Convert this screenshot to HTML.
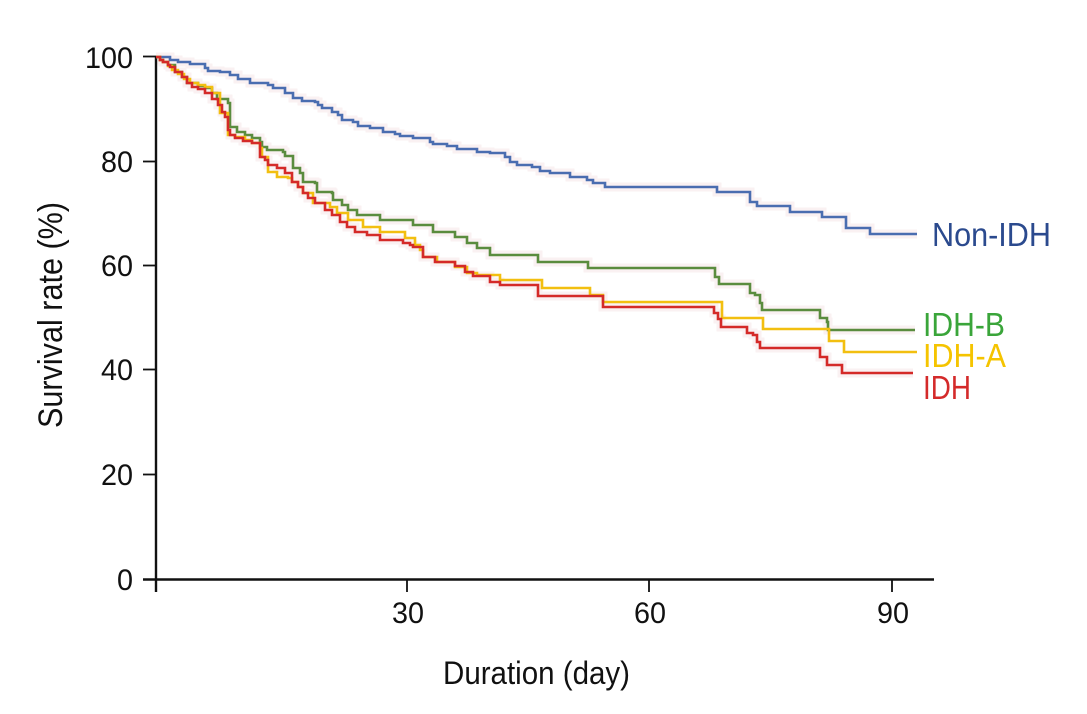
<!DOCTYPE html>
<html>
<head>
<meta charset="utf-8">
<style>
html,body{margin:0;padding:0;background:#fff;}
svg{display:block;}
text{font-family:"Liberation Sans","DejaVu Sans",sans-serif;}
</style>
</head>
<body>
<svg width="1087" height="714" viewBox="0 0 1087 714" xmlns="http://www.w3.org/2000/svg">
<rect width="1087" height="714" fill="#fff"/>

<!-- faint halos -->
<g fill="none" stroke="#f6e4e6" stroke-width="9" opacity="0.5" stroke-linejoin="miter">
<path d="M156,57 H170 V60 H178 V62 H190 V64 H205 V68 H208 V71 H220 V72 H230 V75 H238 V79 H250 V83 H268 V85 H273 V88 H285 V93 H293 V98 H302 V101 H315 V102 H318 V105 H322 V108 H332 V112 H338 V115 H342 V120 H353 V122 H358 V126 H370 V128 H383 V132 H395 V134 H400 V136 H413 V138 H430 V142 H433 V144 H447 V146 H457 V149 H477 V152 H490 V153 H505 V157 H510 V162 H517 V165 H532 V167 H540 V171 H550 V173 H570 V177 H587 V180 H593 V183 H605 V187 H717 V192 H750 V202 H757 V206 H790 V212 H822 V217 H846 V228 H870 V234 H917"/>
<path d="M156,57 H160 V60 H163 V62 H168 V65 H175 V72 H182 V77 H187 V83 H198 V86 H205 V88 H212 V93 H217 V99 H228 V103 H230 V127 H237 V132 H245 V135 H252 V138 H260 V142 H262 V147 H267 V150 H283 V152 H285 V156 H293 V168 H300 V173 H303 V182 H315 V183 H317 V192 H332 V193 H333 V200 H342 V205 H348 V210 H357 V215 H380 V220 H413 V225 H433 V232 H455 V237 H467 V243 H477 V248 H490 V255 H538 V262 H588 V268 H715 V277 H719 V284 H750 V293 H755 V295 H760 V303 H762 V310 H820 V318 H827 V322 H828 V330 H915"/>
<path d="M156,57 H160 V60 H163 V62 H168 V65 H170 V67 H175 V72 H182 V77 H187 V83 H192 V87 H198 V89 H205 V93 H212 V99 H218 V105 H222 V112 H225 V117 H228 V130 H230 V135 H235 V138 H243 V141 H252 V143 H260 V157 H265 V160 H268 V165 H277 V168 H285 V173 H292 V182 H298 V187 H303 V193 H308 V198 H315 V203 H325 V210 H332 V215 H340 V222 H347 V227 H355 V232 H367 V235 H380 V240 H403 V243 H410 V245 H413 V247 H423 V257 H435 V262 H455 V266 H465 V272 H473 V276 H490 V282 H500 V285 H538 V296 H603 V307 H714 V313 H718 V319 H721 V327 H747 V333 H753 V335 H757 V342 H760 V348 H820 V357 H827 V365 H842 V373 H913"/>
</g>

<!-- axes -->
<g stroke="#111" fill="none">
<line x1="156" y1="56" x2="156" y2="592" stroke-width="2.4"/>
<line x1="143" y1="579.5" x2="934" y2="579.5" stroke-width="2.4"/>
<line x1="143" y1="56.5" x2="156" y2="56.5" stroke-width="1.8"/>
<line x1="143" y1="161.5" x2="156" y2="161.5" stroke-width="1.8"/>
<line x1="143" y1="265.5" x2="156" y2="265.5" stroke-width="1.8"/>
<line x1="143" y1="369.5" x2="156" y2="369.5" stroke-width="1.8"/>
<line x1="143" y1="474.5" x2="156" y2="474.5" stroke-width="1.8"/>
<line x1="407" y1="579" x2="407" y2="592" stroke-width="1.8"/>
<line x1="649" y1="579" x2="649" y2="592" stroke-width="1.8"/>
<line x1="892" y1="579" x2="892" y2="592" stroke-width="1.8"/>
</g>

<!-- tick labels -->
<g font-size="30" fill="#111">
<text x="85" y="68" textLength="48" lengthAdjust="spacingAndGlyphs">100</text>
<text x="101" y="172" textLength="32" lengthAdjust="spacingAndGlyphs">80</text>
<text x="101" y="276" textLength="32" lengthAdjust="spacingAndGlyphs">60</text>
<text x="101" y="380" textLength="32" lengthAdjust="spacingAndGlyphs">40</text>
<text x="101" y="485" textLength="32" lengthAdjust="spacingAndGlyphs">20</text>
<text x="117" y="590" textLength="16" lengthAdjust="spacingAndGlyphs">0</text>
<text x="392" y="623" textLength="32" lengthAdjust="spacingAndGlyphs">30</text>
<text x="634" y="623" textLength="32" lengthAdjust="spacingAndGlyphs">60</text>
<text x="877" y="623" textLength="32" lengthAdjust="spacingAndGlyphs">90</text>
</g>

<!-- axis titles -->
<text x="443" y="684" font-size="32" fill="#111" textLength="187" lengthAdjust="spacingAndGlyphs">Duration (day)</text>
<text transform="translate(62,428) rotate(-90)" x="0" y="0" font-size="34" fill="#111" textLength="226" lengthAdjust="spacingAndGlyphs">Survival rate (%)</text>

<!-- curves -->
<g fill="none" stroke-width="2.6" stroke-linejoin="miter">
<path stroke="#4a6db0" d="M156,57 H170 V60 H178 V62 H190 V64 H205 V68 H208 V71 H220 V72 H230 V75 H238 V79 H250 V83 H268 V85 H273 V88 H285 V93 H293 V98 H302 V101 H315 V102 H318 V105 H322 V108 H332 V112 H338 V115 H342 V120 H353 V122 H358 V126 H370 V128 H383 V132 H395 V134 H400 V136 H413 V138 H430 V142 H433 V144 H447 V146 H457 V149 H477 V152 H490 V153 H505 V157 H510 V162 H517 V165 H532 V167 H540 V171 H550 V173 H570 V177 H587 V180 H593 V183 H605 V187 H717 V192 H750 V202 H757 V206 H790 V212 H822 V217 H846 V228 H870 V234 H917"/>
<path stroke="#5a8c3e" d="M156,57 H160 V60 H163 V62 H168 V65 H175 V72 H182 V77 H187 V83 H198 V86 H205 V88 H212 V93 H217 V99 H228 V103 H230 V127 H237 V132 H245 V135 H252 V138 H260 V142 H262 V147 H267 V150 H283 V152 H285 V156 H293 V168 H300 V173 H303 V182 H315 V183 H317 V192 H332 V193 H333 V200 H342 V205 H348 V210 H357 V215 H380 V220 H413 V225 H433 V232 H455 V237 H467 V243 H477 V248 H490 V255 H538 V262 H588 V268 H715 V277 H719 V284 H750 V293 H755 V295 H760 V303 H762 V310 H820 V318 H827 V322 H828 V330 H915"/>
<path stroke="#f2bf10" d="M156,57 H160 V60 H163 V62 H168 V66 H172 V70 H178 V74 H184 V79 H190 V83 H198 V85 H205 V87 H212 V93 H220 V113 H228 V135 H235 V137 H245 V140 H252 V143 H260 V148 H262 V157 H268 V172 H277 V177 H288 V178 H292 V182 H298 V187 H303 V193 H313 V203 H330 V207 H337 V213 H348 V220 H363 V227 H380 V232 H405 V238 H415 V245 H420 V250 H423 V257 H437 V262 H455 V267 H467 V273 H477 V275 H500 V280 H542 V288 H590 V295 H603 V302 H722 V318 H763 V329 H829 V341 H844 V352 H917"/>
<path stroke="#d42a28" d="M156,57 H160 V60 H163 V62 H168 V65 H170 V67 H175 V72 H182 V77 H187 V83 H192 V87 H198 V89 H205 V93 H212 V99 H218 V105 H222 V112 H225 V117 H228 V130 H230 V135 H235 V138 H243 V141 H252 V143 H260 V157 H265 V160 H268 V165 H277 V168 H285 V173 H292 V182 H298 V187 H303 V193 H308 V198 H315 V203 H325 V210 H332 V215 H340 V222 H347 V227 H355 V232 H367 V235 H380 V240 H403 V243 H410 V245 H413 V247 H423 V257 H435 V262 H455 V266 H465 V272 H473 V276 H490 V282 H500 V285 H538 V296 H603 V307 H714 V313 H718 V319 H721 V327 H747 V333 H753 V335 H757 V342 H760 V348 H820 V357 H827 V365 H842 V373 H913"/>
</g>

<!-- series labels -->
<text x="932" y="246" font-size="33" fill="#2b4a8e" textLength="119" lengthAdjust="spacingAndGlyphs">Non-IDH</text>
<text x="923" y="336" font-size="33" fill="#3aa53a" textLength="82" lengthAdjust="spacingAndGlyphs">IDH-B</text>
<text x="923" y="367" font-size="33" fill="#f5c400" textLength="83" lengthAdjust="spacingAndGlyphs">IDH-A</text>
<text x="923" y="399" font-size="33" fill="#d42a2a" textLength="48" lengthAdjust="spacingAndGlyphs">IDH</text>
</svg>
</body>
</html>
